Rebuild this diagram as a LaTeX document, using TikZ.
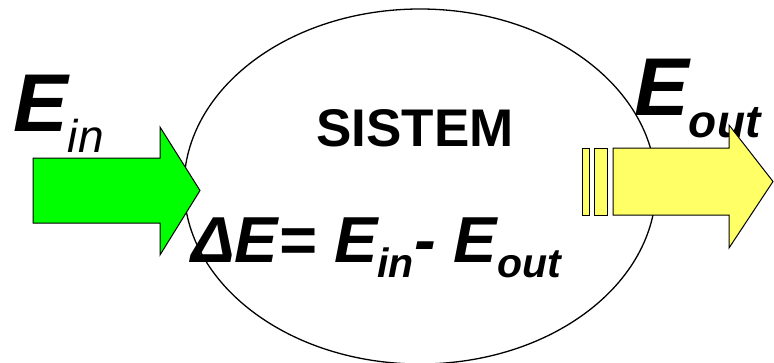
\documentclass[tikz,border=0pt]{standalone}
\usepackage{fontspec}
\setmainfont{Liberation Sans}
\usepackage{xcolor}
\definecolor{ingreen}{RGB}{0,255,0}
\definecolor{outyellow}{RGB}{255,255,102}
\usepackage{tikz}
\usetikzlibrary{
    shapes.geometric,
    positioning,
    calc
}
\newcommand{\bigE}{{\fontsize{82}{82}\selectfont\bfseries\itshape E}}
\newcommand{\eqsize}{\fontsize{65}{65}\selectfont\bfseries\itshape}
\newcommand{\subsz}[1]{\raisebox{-15pt}{\fontsize{41}{41}\selectfont\bfseries\itshape #1}}

\begin{document}
\begin{tikzpicture}[
        x=1pt, y=-1pt,
        flow/.style={draw=black, line width=1pt, fill=#1, line join=miter},
        lbl/.style={inner sep=0pt, anchor=base west}
    ]
        \useasboundingbox (0,0) rectangle (774,362);

        % System
        \node[ellipse, draw, line width=1.3pt, minimum width=472pt, minimum height=355pt, inner sep=0pt] (sistem) at (420,186.5) {};
        \node[lbl] (title) at (316,146) {\fontsize{53}{53}\selectfont\bfseries SISTEM};
        \node[lbl] (balance) at (191,262) {\eqsize ΔE= E\subsz{in}- E\subsz{out}};

        % Energy in
        \node[lbl] (ein) at (13,131) {\bigE\raisebox{-21pt}{\fontsize{46}{46}\selectfont\itshape in}};
        \draw[flow=ingreen] (33,158) -- (160,158) -- (160,127) -- (200,190.5)
            -- (160,255) -- (160,223) -- (33,223) -- cycle;

        % Energy out
        \node[lbl] (eout) at (634,115) {\bigE\raisebox{-22pt}{\fontsize{46}{46}\selectfont\bfseries\itshape out}};
        \draw[flow=outyellow] (582,148) rectangle (589,215);
        \draw[flow=outyellow] (594,148) rectangle (607,215);
        \draw[flow=outyellow] (613,148) -- (729,148) -- (729,125) -- (773,181.5)
            -- (729,248) -- (729,215) -- (613,215) -- cycle;
    \end{tikzpicture}
\end{document}
